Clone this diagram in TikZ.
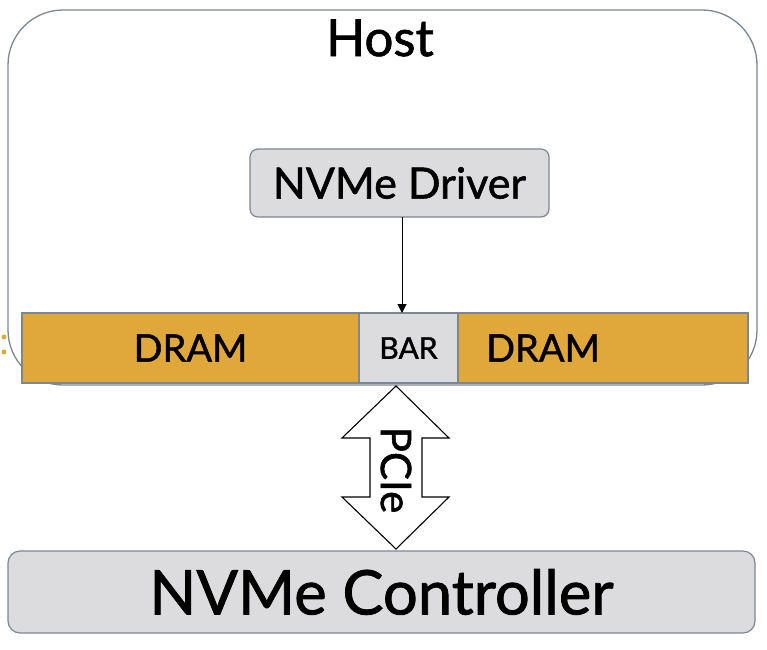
\documentclass[tikz,border=0pt]{standalone}
\usepackage{fontspec}
\setmainfont{Lato}[FakeBold=1.3]
\usetikzlibrary{arrows.meta,calc}
\definecolor{edgegrey}{HTML}{7B8792}
\definecolor{boxgrey}{HTML}{DCDCDE}
\definecolor{dramgold}{HTML}{E0A83B}
\tikzset{
  hostframe/.style={draw=edgegrey, line width=1.3pt, rounded corners=55pt},
  greybox/.style={draw=edgegrey, fill=boxgrey, line width=1.2pt, inner sep=0pt, outer sep=0pt},
  drambox/.style={draw=edgegrey, fill=dramgold, line width=1.2pt, inner sep=0pt, outer sep=0pt, minimum height=70pt},
  pciearrow/.style={draw=black, fill=white, line width=1.1pt, line join=miter},
  dramtext/.style={font=\fontsize{38}{44}\selectfont},
}
\begin{document}
\begin{tikzpicture}[x=1pt,y=-1pt]
\useasboundingbox (0,0) rectangle (767,649);
% host frame
\draw[hostframe] (8,10) rectangle (757,385);
\node[font=\fontsize{51}{60}\selectfont] (host) at (380,38) {Host};
% stray dots at left edge
\fill[dramgold] (4,337) circle (2.5pt) (4,352) circle (2.5pt);
% driver
\node[greybox, rounded corners=8pt, minimum width=299pt, minimum height=68pt,
      font=\fontsize{43}{48}\selectfont] (driver) at (399.5,183) {NVMe Driver};
% memory bar
\node[drambox, minimum width=337pt] (dramL) at (190.5,348) {};
\node[greybox, minimum width=99pt, minimum height=70pt, font=\fontsize{30}{36}\selectfont] (bar) at (408.5,348) {BAR};
\node[drambox, minimum width=290pt] (dramR) at (603,348) {};
\node[dramtext] (dramLt) at (dramL.center) {DRAM};
\node[dramtext] (dramRt) at ($(dramR.center)+(-60,0)$) {DRAM};
% controller
\node[greybox, rounded corners=12pt, minimum width=747pt, minimum height=82pt,
      font=\fontsize{61.5}{70}\selectfont] (ctrl) at (381.5,592) {NVMe Controller};
% driver -> BAR
\path (driver.south) ++(2.5,0) coordinate (drvout);
\draw[line width=1pt, -{Triangle[length=9pt,width=9pt]}] (drvout) -- (drvout |- bar.north);
% PCIe double arrow
\draw[pciearrow] (396,386) -- (449,438) -- (422,438) -- (422,497) -- (449,497) -- (396,549)
  -- (342,497) -- (370,497) -- (370,438) -- (342,438) -- cycle;
\node[rotate=-90, font=\fontsize{42}{48}\selectfont] (pcie) at (396,470) {PCIe};
\end{tikzpicture}
\end{document}
